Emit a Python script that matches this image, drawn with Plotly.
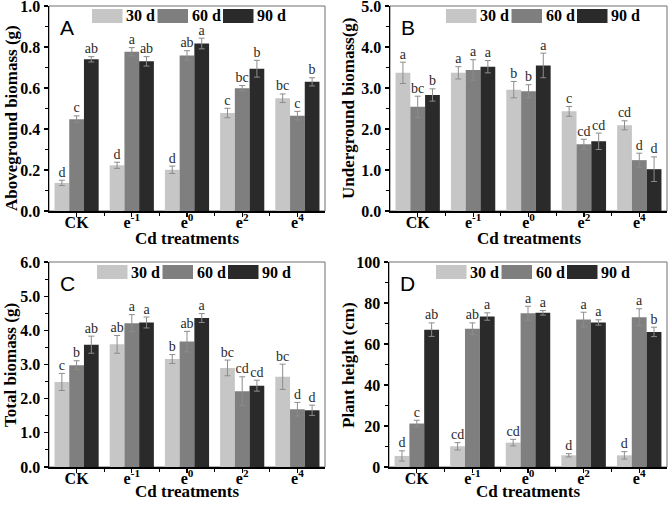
import plotly.graph_objects as go

W, H = 669, 508

categories = ["CK", "e<sup>-1</sup>", "e<sup>0</sup>", "e<sup>2</sup>", "e<sup>4</sup>"]
series_names = ["30 d", "60 d", "90 d"]
colors = ["#c6c6c6", "#7f7f7f", "#2a2a2a"]

# Panel A: Aboveground biomass (g)
above_30 = [0.137, 0.223, 0.201, 0.478, 0.550]
above_60 = [0.448, 0.777, 0.759, 0.599, 0.465]
above_90 = [0.740, 0.730, 0.817, 0.694, 0.630]
above_30_err = [0.013, 0.015, 0.018, 0.023, 0.021]
above_60_err = [0.016, 0.020, 0.023, 0.013, 0.021]
above_90_err = [0.013, 0.023, 0.026, 0.041, 0.020]
above_30_sig = ["d", "d", "d", "c", "bc"]
above_60_sig = ["c", "a", "ab", "bc", "c"]
above_90_sig = ["ab", "ab", "a", "b", "b"]

# Panel B: Underground biomass (g)
under_30 = [3.37, 3.37, 2.96, 2.43, 2.09]
under_60 = [2.54, 3.44, 2.92, 1.63, 1.24]
under_90 = [2.83, 3.52, 3.55, 1.70, 1.02]
under_30_err = [0.26, 0.15, 0.20, 0.12, 0.11]
under_60_err = [0.26, 0.25, 0.16, 0.12, 0.17]
under_90_err = [0.15, 0.15, 0.30, 0.20, 0.30]
under_30_sig = ["a", "a", "b", "c", "cd"]
under_60_sig = ["bc", "a", "b", "cd", "d"]
under_90_sig = ["b", "a", "a", "cd", "d"]

# Panel C: Total biomass (g)
total_30 = [2.49, 3.59, 3.16, 2.90, 2.64]
total_60 = [2.98, 4.21, 3.67, 2.22, 1.69]
total_90 = [3.58, 4.23, 4.36, 2.38, 1.66]
total_30_err = [0.25, 0.26, 0.13, 0.23, 0.37]
total_60_err = [0.13, 0.25, 0.30, 0.42, 0.20]
total_90_err = [0.25, 0.16, 0.13, 0.16, 0.15]
total_30_sig = ["c", "ab", "b", "bc", "bc"]
total_60_sig = ["b", "a", "ab", "cd", "d"]
total_90_sig = ["ab", "a", "a", "cd", "d"]

# Panel D: Plant height (cm)
height_30 = [5.4, 10.1, 11.9, 5.7, 5.7]
height_60 = [21.2, 67.5, 75.0, 71.9, 73.1]
height_90 = [67.0, 73.4, 75.2, 70.5, 65.9]
height_30_err = [2.5, 1.8, 1.6, 0.8, 1.8]
height_60_err = [1.6, 2.8, 3.4, 3.6, 4.1]
height_90_err = [3.3, 1.8, 1.1, 1.3, 2.3]
height_30_sig = ["d", "cd", "cd", "d", "d"]
height_60_sig = ["c", "ab", "a", "a", "a"]
height_90_sig = ["ab", "a", "a", "a", "b"]

panels = [
    dict(letter="A", ytitle="Aboveground biomass (g)", ymax=1.0, dtick=0.2, fmt=".1f",
         vals=[above_30, above_60, above_90], errs=[above_30_err, above_60_err, above_90_err],
         sigs=[above_30_sig, above_60_sig, above_90_sig],
         box=(49, 325, 6, 211), leg=43, ytx=11, yty=118, xty=27),
    dict(letter="B", ytitle="Underground biomass(g)", ymax=5.0, dtick=1.0, fmt=".1f",
         vals=[under_30, under_60, under_90], errs=[under_30_err, under_60_err, under_90_err],
         sigs=[under_30_sig, under_60_sig, under_90_sig],
         box=(390, 667, 6, 211), leg=56, ytx=348, yty=108, xty=27),
    dict(letter="C", ytitle="Total biomass (g)", ymax=6.0, dtick=1.0, fmt=".1f",
         vals=[total_30, total_60, total_90], errs=[total_30_err, total_60_err, total_90_err],
         sigs=[total_30_sig, total_60_sig, total_90_sig],
         box=(49, 325, 262, 467), leg=48, ytx=10, yty=365, xty=24.5),
    dict(letter="D", ytitle="Plant height (cm)", ymax=100, dtick=20, fmt="d",
         vals=[height_30, height_60, height_90], errs=[height_30_err, height_60_err, height_90_err],
         sigs=[height_30_sig, height_60_sig, height_90_sig],
         box=(389, 667, 262, 467), leg=47, ytx=348, yty=365, xty=24.5),
]

SERIF = "Liberation Serif"
SANS = "Liberation Sans"


def px(x):
    return x / W


def py(y):
    return 1 - y / H


fig = go.Figure()
shapes = []
annotations = []
xs = list(range(len(categories)))
bargap = 0.2
bw = (1 - bargap) / 3

for k, p in enumerate(panels):
    n = "" if k == 0 else str(k + 1)
    xa, ya = "x" + n, "y" + n
    x0, x1, yt, yb = p["box"]
    for j in range(3):
        fig.add_trace(go.Bar(
            x=xs, y=p["vals"][j], name=series_names[j], xaxis=xa, yaxis=ya,
            marker=dict(color=colors[j], line=dict(width=0)),
            error_y=dict(type="data", array=p["errs"][j], color="#8c8c8c", thickness=1, width=3),
            showlegend=False, hoverinfo="skip",
        ))
    for j in range(3):
        fig.add_trace(go.Scatter(
            x=[i + (j - 1) * bw for i in xs],
            y=[v + e for v, e in zip(p["vals"][j], p["errs"][j])],
            text=p["sigs"][j], mode="text", textposition="top center",
            textfont=dict(family=SERIF, size=14, color="#2a2a2a"),
            xaxis=xa, yaxis=ya, showlegend=False, cliponaxis=False, hoverinfo="skip",
        ))
    axfont = dict(family=SERIF, size=16, color="black", weight="bold")
    fig.update_layout(**{
        "xaxis" + n: dict(
            domain=[px(x0), px(x1)], anchor=ya, range=[-0.5, 4.5], automargin=False,
            tickmode="array", tickvals=xs, ticktext=categories,
            ticks="outside", ticklen=4, tickwidth=1.2, tickcolor="black",
            ticklabelstandoff=-8, ticklabeloverflow="allow",
            showline=True, linecolor="black", linewidth=1.5,
            minor=dict(tickmode="array", tickvals=[0.5, 1.5, 2.5, 3.5], ticks="outside",
                       ticklen=3, tickwidth=1, tickcolor="black"),
            showgrid=False, zeroline=False, tickfont=axfont, fixedrange=True,
        ),
        "yaxis" + n: dict(
            domain=[py(yb), py(yt)], anchor=xa, range=[0, p["ymax"]], automargin=False,
            tickmode="linear", tick0=0, dtick=p["dtick"], tickformat=p["fmt"],
            ticks="outside", ticklen=4, tickwidth=1.2, tickcolor="black",
            ticklabeloverflow="allow",
            showline=True, linecolor="black", linewidth=1.5,
            minor=dict(dtick=p["dtick"] / 2, ticks="outside", ticklen=2.5, tickwidth=1,
                       tickcolor="black"),
            showgrid=False, zeroline=False, tickfont=axfont, fixedrange=True,
        ),
    })
    # frame
    shapes.append(dict(type="rect", xref="paper", yref="paper",
                       x0=px(x0), x1=px(x1), y0=py(yb), y1=py(yt),
                       line=dict(color="#6e6e6e", width=1), layer="below"))
    # panel letter
    annotations.append(dict(text=p["letter"], xref="paper", yref="paper",
                            x=px(x0 + 9), y=py(yt + 21), xanchor="left", yanchor="middle",
                            showarrow=False, font=dict(family=SANS, size=21, color="black")))
    # custom legend
    for j in range(3):
        lx = x0 + p["leg"] + j * 65.5
        shapes.append(dict(type="rect", xref="paper", yref="paper",
                           x0=px(lx), x1=px(lx + 30.5), y0=py(yt + 17), y1=py(yt + 3),
                           fillcolor=colors[j], line=dict(width=0)))
        annotations.append(dict(text=series_names[j], xref="paper", yref="paper",
                                x=px(lx + 32), y=py(yt + 10), xanchor="left", yanchor="middle",
                                showarrow=False,
                                font=dict(family=SERIF, size=16, color="black", weight="bold")))
    # axis titles
    annotations.append(dict(text="Cd treatments", xref="paper", yref="paper",
                            x=px((x0 + x1) / 2), y=py(yb + p["xty"]), xanchor="center",
                            yanchor="middle", showarrow=False,
                            font=dict(family=SERIF, size=17, color="black", weight="bold")))
    annotations.append(dict(text=p["ytitle"], xref="paper", yref="paper", textangle=-90,
                            x=px(p["ytx"]), y=py(p["yty"]), xanchor="center", yanchor="middle",
                            showarrow=False,
                            font=dict(family=SERIF, size=17, color="black", weight="bold")))

fig.update_layout(
    width=W, height=H, margin=dict(l=0, r=0, t=0, b=0, autoexpand=False),
    paper_bgcolor="white", plot_bgcolor="white",
    barmode="group", bargap=bargap, bargroupgap=0,
    shapes=shapes, annotations=annotations, showlegend=False,
)

fig.write_html("out.html", config={"displayModeBar": False, "staticPlot": True},
               post_script="document.body.style.margin='0';document.body.style.padding='0';"
                           "document.body.style.overflow='hidden';")
